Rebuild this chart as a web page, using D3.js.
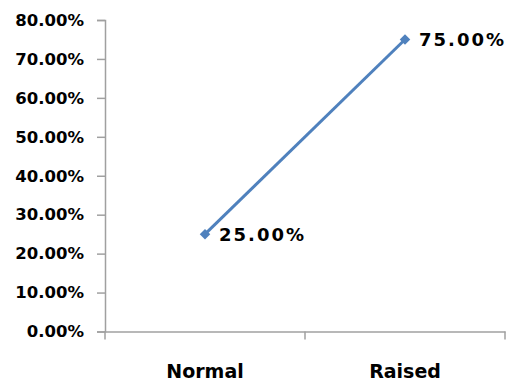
<!DOCTYPE html>
<html>
<head>
<meta charset="utf-8">
<script src="https://cdn.jsdelivr.net/npm/d3@7"></script>
<style>
  body { margin: 0; background: #fff; }
</style>
</head>
<body>
<script>
const WIDTH = 510
const HEIGHT = 381

// data
const categories = ["Normal", "Raised"]
const values = [0.25, 0.75]
const yTicks = [0, 0.1, 0.2, 0.3, 0.4, 0.5, 0.6, 0.7, 0.8]

const svg = d3.select("body")
    .append("svg")
    .attr("width", WIDTH)
    .attr("height", HEIGHT)

const x = d3.scaleBand()
    .domain(categories)
    .range([105, 505])

const y = d3.scaleLinear()
    .domain([0, 0.8])
    .range([331.5, 20])

const fmt = d3.format(".2%")
const axisColor = "#a0a0a0"

// y axis
const yAxis = svg.append("g")
    .attr("transform", "translate(105,0)")
    .call(d3.axisLeft(y).tickValues(yTicks).tickFormat(fmt).tickSizeOuter(0).tickSize(8).tickPadding(13))

yAxis.selectAll("line, path").attr("stroke", axisColor).attr("stroke-width", 1.5)
yAxis.selectAll("text")
    .attr("font-family", "DejaVu Sans")
    .attr("font-weight", "bold")
    .attr("font-size", 16.5)
    .attr("fill", "#000")

// x axis
const xAxis = svg.append("g")
    .attr("transform", "translate(0,331.5)")
    .call(d3.axisBottom(x).tickSize(0).tickSizeOuter(0).tickPadding(33))

xAxis.select("path").attr("stroke", axisColor).attr("stroke-width", 1.5)
xAxis.selectAll("text")
    .attr("font-family", "DejaVu Sans")
    .attr("font-weight", "bold")
    .attr("font-size", 19)
    .attr("fill", "#000")

// tick marks at category boundaries
const bounds = [0, 1, 2].map(i => x.range()[0] + x.step() * i)
xAxis.selectAll(".sep")
    .data(bounds)
    .enter().append("line")
    .attr("x1", d => d)
    .attr("x2", d => d)
    .attr("y1", 0)
    .attr("y2", 8)
    .attr("stroke", axisColor)
    .attr("stroke-width", 1.5)

const cx = d => x(d) + x.bandwidth() / 2

// line
svg.append("path")
    .datum(categories)
    .attr("fill", "none")
    .attr("stroke", "#4f81bd")
    .attr("stroke-width", 3)
    .attr("d", d3.line().x(d => cx(d)).y((d, i) => y(values[i])))

// markers
svg.selectAll(".mark")
    .data(categories)
    .enter().append("path")
    .attr("transform", (d, i) => `translate(${cx(d)},${y(values[i])})`)
    .attr("d", d3.symbol().type(d3.symbolDiamond2).size(70))
    .attr("fill", "#4f81bd")

// data labels
svg.selectAll(".lbl")
    .data(categories)
    .enter().append("text")
    .attr("x", d => cx(d) + 14)
    .attr("y", (d, i) => y(values[i]) + 7)
    .text((d, i) => fmt(values[i]))
    .attr("font-family", "DejaVu Sans")
    .attr("font-weight", "bold")
    .attr("font-size", 18)
    .attr("letter-spacing", 2)
    .attr("fill", "#000")
</script>
</body>
</html>
